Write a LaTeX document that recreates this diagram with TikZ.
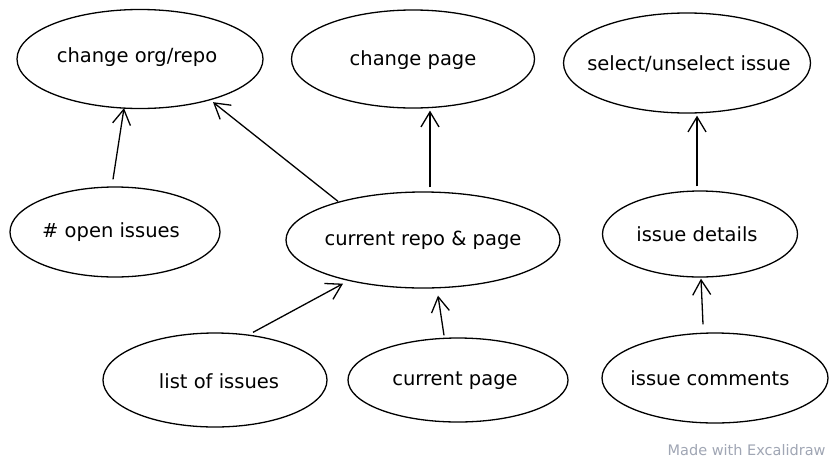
\documentclass[tikz,border=0pt]{standalone}
\usepackage{fontspec}
\setmainfont{DejaVu Sans}
\usetikzlibrary{shapes.geometric,arrows.meta}
\definecolor{wmgray}{HTML}{A0A6B4}
\begin{document}
\begin{tikzpicture}[x=1pt,y=-1pt,
  bubble/.style={ellipse,draw=black,line width=1.3pt,inner sep=0pt},
  lbl/.style={font=\fontsize{19.5}{22}\selectfont},
  arr/.style={line width=1.3pt,-{Straight Barb[length=15pt,width=18pt,line width=1.3pt]}}]
\useasboundingbox[fill=white] (0,0) rectangle (837,461);
\node[bubble,minimum width=246pt,minimum height=99pt] (org) at (140,59) {};
\node[lbl] (orgt) at (137,57) {change org/repo};
\node[bubble,minimum width=243pt,minimum height=98pt] (page) at (413,59) {};
\node[lbl] (paget) at (413,60) {change page};
\node[bubble,minimum width=247pt,minimum height=100pt] (sel) at (687,63) {};
\node[lbl] (selt) at (689,64) {select/unselect issue};
\node[bubble,minimum width=210pt,minimum height=90pt] (open) at (115,232) {};
\node[lbl] (opent) at (111,232) {\# open issues};
\node[bubble,minimum width=274pt,minimum height=96pt] (repo) at (423,240) {};
\node[lbl] (repot) at (423,240) {current repo \& page};
\node[bubble,minimum width=195pt,minimum height=86pt] (det) at (700,234) {};
\node[lbl] (dett) at (697,234) {issue details};
\node[bubble,minimum width=224pt,minimum height=94pt] (list) at (215,380) {};
\node[lbl] (listt) at (219,381) {list of issues};
\node[bubble,minimum width=220pt,minimum height=84pt] (cpage) at (458,380) {};
\node[lbl] (cpaget) at (455,381) {current page};
\node[bubble,minimum width=226pt,minimum height=90pt] (com) at (715,378) {};
\node[lbl] (comt) at (710,378) {issue comments};
\draw[arr] ([shift={(-2,-7)}]open.north) -- ([shift={(-16,-1)}]org.south);
\draw[arr] ([shift={(-85,10)}]repo.north) -- ([shift={(73,-7)}]org.south);
\draw[arr] ([shift={(7,-4)}]repo.north) -- ([shift={(17,2)}]page.south);
\draw[arr] ([shift={(-3,-4)}]det.north) -- ([shift={(10,2)}]sel.south);
\draw[arr] ([shift={(38,0)}]list.north) -- ([shift={(-80,-5)}]repo.south);
\draw[arr] ([shift={(-14,-2)}]cpage.north) -- ([shift={(15,7)}]repo.south);
\draw[arr] ([shift={(-12,-8)}]com.north) -- ([shift={(1,1)}]det.south);
\node[text=wmgray,font=\fontsize{14.5}{16}\selectfont,anchor=east] (wm) at (829,450) {Made with Excalidraw};
\end{tikzpicture}
\end{document}
